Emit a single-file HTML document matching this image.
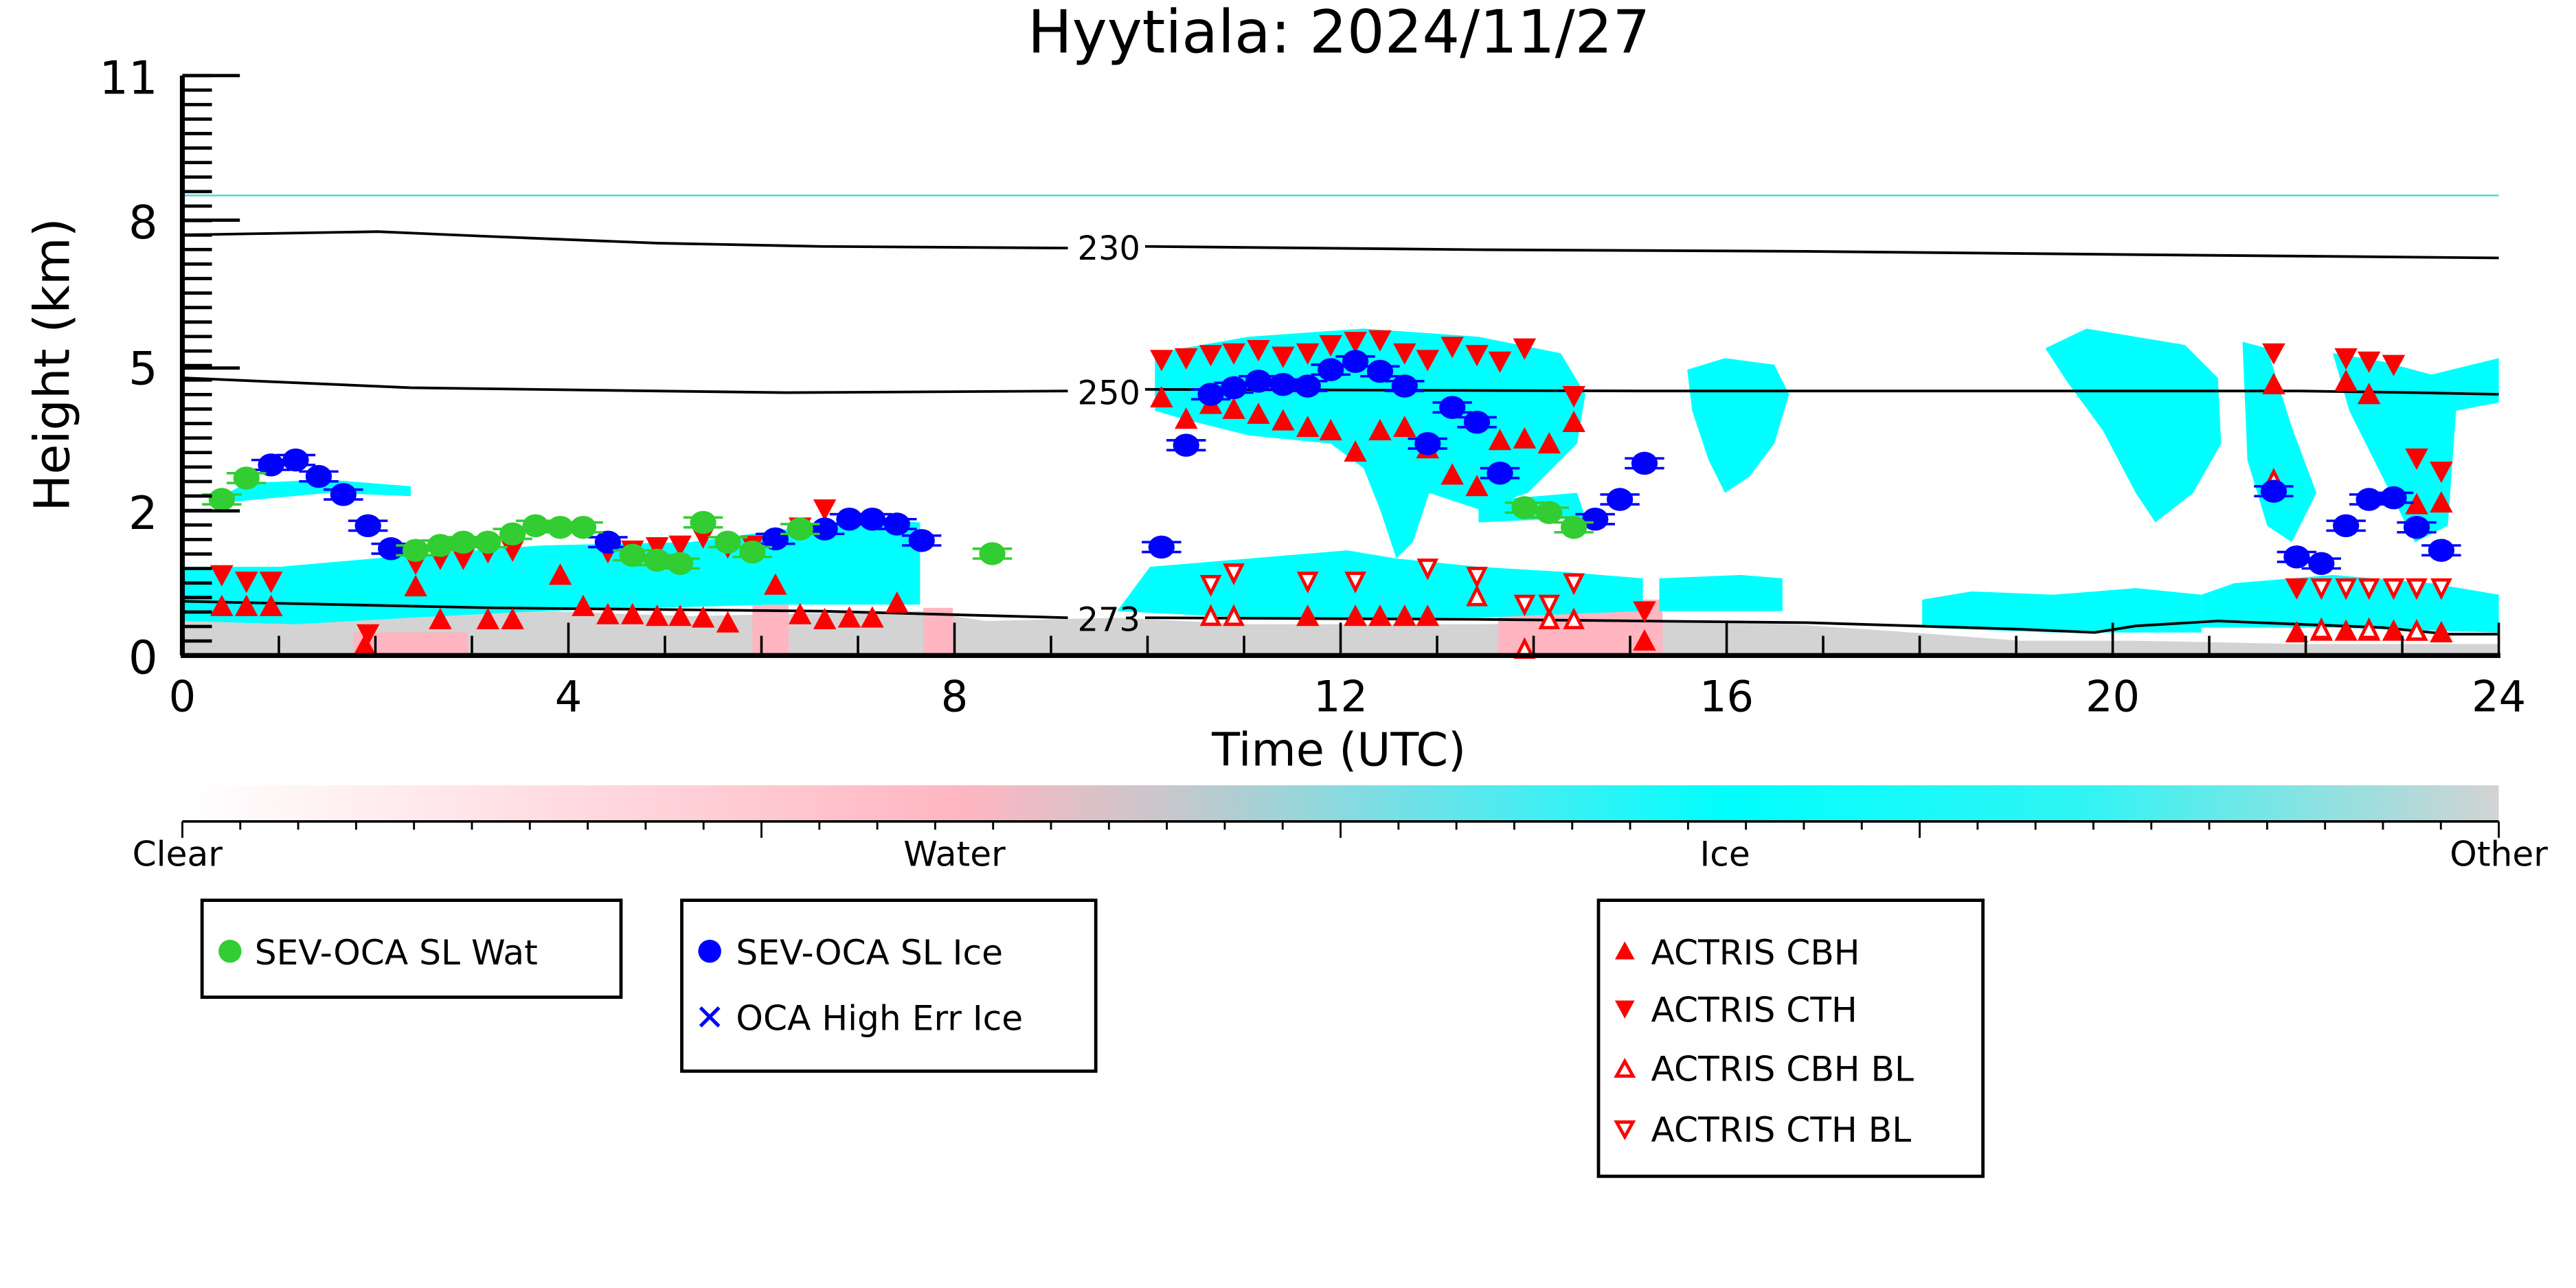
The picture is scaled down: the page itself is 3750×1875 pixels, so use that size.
<!DOCTYPE html>
<html><head><meta charset="utf-8"><style>html,body{margin:0;padding:0;background:#fff}svg{display:block}text{font-family:"DejaVu Sans","Liberation Sans",sans-serif}</style></head>
<body>
<svg id="s" width="3750" height="1875" viewBox="0 0 1568 784" preserveAspectRatio="none" xmlns="http://www.w3.org/2000/svg">
<defs>
<linearGradient id="cb" x1="0" x2="1" y1="0" y2="0">
<stop offset="0" stop-color="#ffffff"/><stop offset="0.336" stop-color="#ffb6c1"/><stop offset="0.43" stop-color="#c4c8cc"/><stop offset="0.55" stop-color="#60e6ec"/><stop offset="0.666" stop-color="#00ffff"/><stop offset="0.82" stop-color="#30f4f4"/><stop offset="1" stop-color="#d3d3d3"/>
</linearGradient>
</defs>
<text x="815" y="32" font-size="36" text-anchor="middle">Hyytiala: 2024/11/27</text>
<g id="clouds">
<polygon fill="#d3d3d3" points="111,378 250,376 330,372 420,375 560,372 600,378 680,376 760,380 900,380 1000,378 1090,380 1150,384 1230,390 1300,390 1400,392 1521,392 1521,399 111,399"/>
<polygon fill="#ffb6c1" points="215,385 285,385 285,399 215,399"/>
<polygon fill="#ffb6c1" points="458,330 480,330 480,399 458,399"/>
<polygon fill="#ffb6c1" points="562,370 580,370 580,399 562,399"/>
<polygon fill="#ffb6c1" points="912,365 1012,365 1012,399 912,399"/>
<polygon fill="#00ffff" points="111,345 170,345 250,338 330,332 420,330 480,322 520,316 560,318 560,368 470,368 330,372 250,376 180,380 111,378"/>
<polygon fill="#00ffff" points="135,302 150,294 200,292 250,296 250,302 200,300 135,306"/>
<polygon fill="#00ffff" points="680,372 700,345 760,340 820,335 850,340 900,345 950,348 1000,352 1000,372 900,376 760,376"/>
<polygon fill="#00ffff" points="1010,352 1060,350 1085,352 1085,372 1010,372"/>
<polygon fill="#00ffff" points="703,215 760,205 830,200 900,205 950,215 965,240 960,270 930,300 900,310 870,300 860,330 850,340 840,310 830,285 810,270 760,265 720,255 703,250"/>
<polygon fill="#00ffff" points="1027,225 1050,218 1080,222 1089,240 1080,270 1065,290 1050,300 1040,280 1030,250"/>
<polygon fill="#00ffff" points="1245,212 1270,200 1300,205 1330,210 1350,230 1352,270 1335,300 1312,318 1300,300 1280,262 1258,232"/>
<polygon fill="#00ffff" points="1365,208 1380,212 1395,260 1410,300 1395,330 1380,320 1368,280"/>
<polygon fill="#00ffff" points="1420,215 1450,220 1480,228 1521,218 1521,245 1495,250 1490,320 1470,330 1450,290 1430,250"/>
<polygon fill="#00ffff" points="1340,362 1360,355 1420,350 1480,355 1521,362 1521,385 1420,382 1340,382"/>
<polygon fill="#00ffff" points="1170,365 1200,360 1250,362 1300,358 1340,362 1340,385 1250,385 1170,382"/>
<polygon fill="#00ffff" points="900,305 960,300 965,315 900,318"/>
</g>
<line x1="111" y1="119" x2="1521" y2="119" stroke="#40d8d8" stroke-width="1"/>
<g fill="none" stroke="#000" stroke-width="1.6">
<polyline points="111,143 170,142 230,141 300,144 400,148 500,150 650,151"/>
<polyline points="697,150 900,152 1100,153 1300,155 1521,157"/>
<polyline points="111,230 250,236 400,238 480,239 650,238"/>
<polyline points="697,237 1000,238 1200,238 1400,238 1470,239 1521,240"/>
<polyline points="111,366 300,370 500,372 650,376"/>
<polyline points="697,376 900,377 1000,378 1100,379 1230,383 1275,385 1300,381 1350,378 1450,382 1490,386 1521,386"/>
</g>
<text x="675" y="158" font-size="20" text-anchor="middle">230</text>
<text x="675" y="246" font-size="20" text-anchor="middle">250</text>
<text x="675" y="384" font-size="20" text-anchor="middle">273</text>
<g id="marks"></g>
<g id="axes" stroke="#000"></g>
<g font-size="28" text-anchor="end">
<text x="96" y="57">11</text><text x="96" y="145">8</text><text x="96" y="234">5</text><text x="96" y="322">2</text><text x="96" y="410">0</text>
</g>
<text transform="translate(42,222) rotate(-90)" font-size="30" text-anchor="middle">Height (km)</text>
<g font-size="26" text-anchor="middle">
<text x="111" y="433">0</text><text x="346" y="433">4</text><text x="581" y="433">8</text><text x="816" y="433">12</text><text x="1051" y="433">16</text><text x="1286" y="433">20</text><text x="1521" y="433">24</text>
</g>
<text x="815" y="466" font-size="28" text-anchor="middle">Time (UTC)</text>
<rect x="111" y="478" width="1410" height="22" fill="url(#cb)"/>
<line x1="111" y1="500" x2="1521" y2="500" stroke="#000" stroke-width="1.5"/>
<g id="cbt" stroke="#000" stroke-width="1.2"></g>
<g font-size="21" text-anchor="middle">
<text x="108" y="527">Clear</text><text x="581" y="527">Water</text><text x="1050" y="527">Ice</text><text x="1521" y="527">Other</text>
</g>
<g fill="none" stroke="#000" stroke-width="2">
<rect x="123" y="548" width="255" height="59"/>
<rect x="415" y="548" width="252" height="104"/>
<rect x="973" y="548" width="234" height="168"/>
</g>
<g font-size="21">
<circle cx="140" cy="579" r="7" fill="#32cd32"/><text x="155" y="587">SEV-OCA SL Wat</text>
<circle cx="432" cy="579" r="7" fill="#0000ff"/><text x="448" y="587">SEV-OCA SL Ice</text>
<text x="432" y="627" font-size="22" fill="#0000ff" text-anchor="middle">✕</text><text x="448" y="627">OCA High Err Ice</text>
<polygon points="983,584 995,584 989,573" fill="#f00"/><text x="1005" y="587">ACTRIS CBH</text>
<polygon points="983,609 995,609 989,620" fill="#f00"/><text x="1005" y="622">ACTRIS CTH</text>
<polygon points="984,655 994,655 989,646" fill="none" stroke="#f00" stroke-width="2"/><text x="1005" y="658">ACTRIS CBH BL</text>
<polygon points="984,683 994,683 989,692" fill="none" stroke="#f00" stroke-width="2"/><text x="1005" y="695">ACTRIS CTH BL</text>
</g>
</svg>
<script>
var NS="http://www.w3.org/2000/svg";
function el(p,t,a){var e=document.createElementNS(NS,t);for(var k in a)e.setAttribute(k,a[k]);p.appendChild(e);return e;}
var ax=document.getElementById('axes');
el(ax,'line',{x1:111,y1:46,x2:111,y2:399,'stroke-width':3});
el(ax,'line',{x1:110,y1:399,x2:1522,y2:399,'stroke-width':3});
for(var i=0;i<=40;i++){var y=46+i*353/40;el(ax,'line',{x1:111,y1:y,x2:129,y2:y,'stroke-width':2});}
[46,134,224,311].forEach(function(y){el(ax,'line',{x1:111,y1:y,x2:146,y2:y,'stroke-width':2});});
for(var h=0;h<=24;h++){var x=111+h*1410/24;var L=(h%4==0)?20:12;el(ax,'line',{x1:x,y1:399,x2:x,y2:399-L,'stroke-width':1.5});}
var cbt=document.getElementById('cbt');
for(var i=0;i<=40;i++){var x=111+i*1410/40;el(cbt,'line',{x1:x,y1:500,x2:x,y2:(i%10==0)?510:505});}
var m=document.getElementById('marks');
function dot(x,y,c){el(m,'line',{x1:x-12,y1:y-3,x2:x+12,y2:y-3,stroke:c,'stroke-width':1.5});el(m,'line',{x1:x-12,y1:y+3,x2:x+12,y2:y+3,stroke:c,'stroke-width':1.5});el(m,'ellipse',{cx:x,cy:y,rx:8,ry:7,fill:c});}
var G=[[135,304],[150,291],[253,335],[268,332],[282,330],[297,330],[312,325],[326,320],[341,321],[355,321],[385,338],[400,341],[414,343],[428,318],[443,330],[458,336],[487,322],[604,337],[928,309],[943,312],[958,321]];
var B=[[165,283],[180,280],[194,290],[209,301],[224,320],[238,334],[370,330],[472,328],[502,322],[517,316],[531,316],[546,319],[561,329],[707,333],[722,271],[737,240],[751,236],[766,232],[781,234],[796,235],[810,225],[825,220],[840,226],[855,235],[869,270],[884,248],[899,257],[913,288],[971,316],[986,304],[1001,282],[1384,299],[1398,339],[1413,343],[1428,320],[1442,304],[1457,303],[1471,321],[1486,335]];
var U=[[135,369],[150,369],[165,369],[253,357],[268,377],[297,377],[312,377],[341,350],[355,369],[370,374],[385,374],[400,375],[414,375],[428,376],[443,379],[472,356],[487,374],[502,377],[517,376],[531,376],[546,367],[707,242],[722,255],[737,246],[751,249],[766,252],[781,256],[796,260],[810,262],[825,275],[840,262],[855,260],[869,273],[884,289],[899,296],[913,268],[928,267],[943,270],[958,257],[1001,390],[1384,234],[1398,385],[1413,384],[1428,384],[1442,384],[1457,384],[1471,384],[1486,385],[1428,232],[1442,240],[1471,307],[1486,306],[825,375],[840,375],[855,375],[869,375],[796,375],[222,393]];
var D=[[135,350],[150,354],[165,354],[224,386],[253,343],[268,340],[282,340],[297,336],[312,335],[370,336],[385,335],[400,333],[414,332],[428,327],[443,333],[458,332],[487,321],[502,310],[707,219],[722,218],[737,216],[751,215],[766,213],[781,217],[796,215],[810,210],[825,208],[840,207],[855,215],[869,219],[884,211],[899,216],[913,220],[928,212],[958,241],[1001,372],[1384,215],[1428,218],[1442,220],[1457,222],[1471,279],[1486,287],[1398,358]];
var OU=[[737,375],[751,375],[899,363],[928,395],[943,377],[958,377],[1384,292],[1413,383],[1442,383],[1471,384]];
var OD=[[737,356],[751,349],[796,354],[825,354],[869,346],[899,351],[928,368],[943,368],[958,355],[1413,358],[1428,358],[1442,358],[1457,358],[1471,358],[1486,358]];
U.forEach(function(p){el(m,'polygon',{points:(p[0]-7)+','+(p[1]+6)+' '+(p[0]+7)+','+(p[1]+6)+' '+p[0]+','+(p[1]-7),fill:'#f00'});});
D.forEach(function(p){el(m,'polygon',{points:(p[0]-7)+','+(p[1]-6)+' '+(p[0]+7)+','+(p[1]-6)+' '+p[0]+','+(p[1]+7),fill:'#f00'});});
OU.forEach(function(p){el(m,'polygon',{points:(p[0]-5)+','+(p[1]+5)+' '+(p[0]+5)+','+(p[1]+5)+' '+p[0]+','+(p[1]-5),fill:'#fff',stroke:'#f00','stroke-width':2});});
OD.forEach(function(p){el(m,'polygon',{points:(p[0]-5)+','+(p[1]-5)+' '+(p[0]+5)+','+(p[1]-5)+' '+p[0]+','+(p[1]+5),fill:'#fff',stroke:'#f00','stroke-width':2});});
B.forEach(function(p){dot(p[0],p[1],'#0000ff');});
G.forEach(function(p){dot(p[0],p[1],'#32cd32');});
</script>
</body></html>
